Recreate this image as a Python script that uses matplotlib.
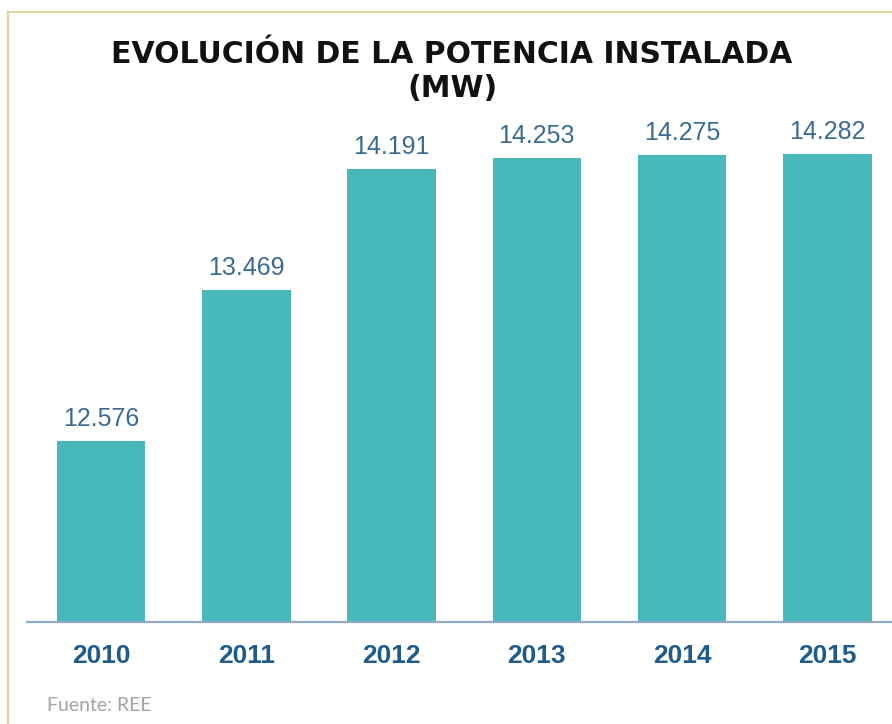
import matplotlib.pyplot as plt
from matplotlib.lines import Line2D

# data (MW)
years = ['2010', '2011', '2012', '2013', '2014', '2015']
potencia = [12576, 13469, 14191, 14253, 14275, 14282]

W, H = 892, 724
fig = plt.figure(figsize=(W / 100, H / 100), dpi=100)

# axes placed in pixels
left, right, bottom, top = 26.7, 892, 622, 100
ax = fig.add_axes([left / W, 1 - bottom / H, (right - left) / W, (bottom - top) / H])

x = list(range(len(years)))
ax.bar(x, potencia, width=0.61, color='#47b9bb', zorder=2)
ax.set_ylim(11500, 14600)
ax.set_xlim(-0.511, 5.444)

for xi, v in zip(x, potencia):
    ax.annotate(f"{v:,}".replace(",", "."), (xi, v), xytext=(0, 10.8),
                textcoords='offset points', ha='center', va='baseline',
                fontsize=18, family='Liberation Sans', color='#3a6b95')

for s in ['top', 'right', 'left']:
    ax.spines[s].set_visible(False)
ax.spines['bottom'].set_color('#8eaac8')
ax.spines['bottom'].set_linewidth(1.6)
ax.spines['bottom'].set_zorder(3)
ax.set_yticks([])
ax.set_xticks(x, years)
ax.tick_params(axis='x', length=0, pad=15.5)
for lbl in ax.get_xticklabels():
    lbl.set_fontfamily('Liberation Sans')
    lbl.set_fontweight('bold')
    lbl.set_fontsize(19)
    lbl.set_color('#1f5b8b')

# title
fig.text(452 / W, 1 - 63 / H, 'EVOLUCIÓN DE LA POTENCIA INSTALADA', ha='center',
         va='baseline', fontsize=21.5, fontweight='bold', family='DejaVu Sans', color='#111111')
fig.text(452 / W, 1 - 97 / H, '(MW)', ha='center', va='baseline',
         fontsize=21.5, fontweight='bold', family='DejaVu Sans', color='#111111')

# source
fig.text(47 / W, 1 - 711 / H, 'Fuente: REE', ha='left', va='baseline',
         fontsize=14, family='Lato', color='#a3a3a3')

# frame lines
bx, by = 8.3 / W, 1 - 11.7 / H
fig.add_artist(Line2D([bx, bx], [0, by], color='#e3d39f', lw=1.6))
fig.add_artist(Line2D([bx, 1], [by, by], color='#e3d39f', lw=1.6))

fig.savefig('out.png', dpi=100)
